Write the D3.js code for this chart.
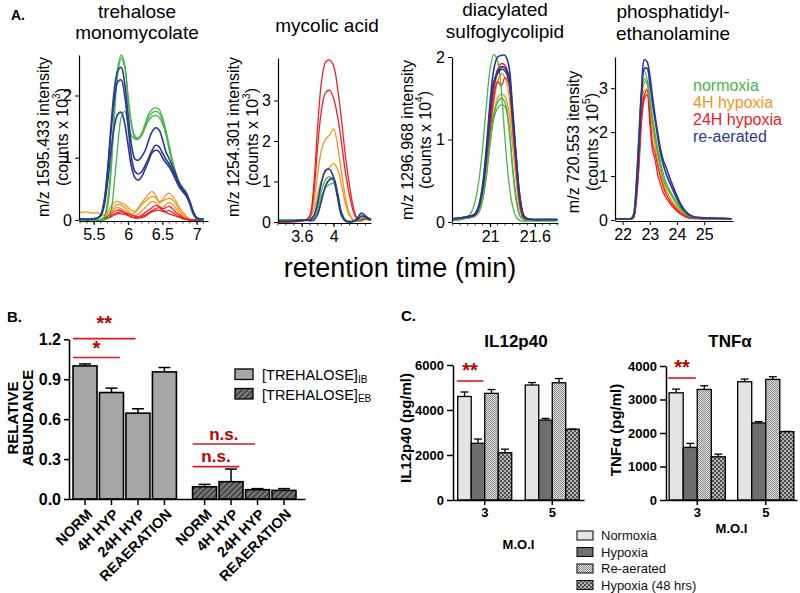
<!DOCTYPE html>
<html><head><meta charset="utf-8">
<script src="https://cdn.jsdelivr.net/npm/d3@7"></script>
<style>body{margin:0;background:#fff}svg{display:block}</style>
</head><body><svg id="chart" width="800" height="593"></svg>
<script>
// ================= DATA =================
const conditionNames = ["normoxia", "4H hypoxia", "24H hypoxia", "re-aerated"];
const conditionColors = ["#45b649", "#f7941d", "#ed2024", "#2b3990"];

// Panel A1: trehalose monomycolate (m/z 1595.433), counts x 10^3
const tmmTime = [5.3,5.4,5.5,5.55,5.6,5.65,5.7,5.75,5.8,5.85,5.9,5.95,6.0,6.05,6.1,6.15,6.2,6.25,6.3,6.35,6.4,6.45,6.5,6.55,6.6,6.65,6.7,6.75,6.8,6.85,6.9,6.95,7.0,7.1];
const tmmNormoxia = [
 [0,0,0,0,0.01,0.05,0.3,0.9,1.8,2.45,2.65,2.5,2.0,1.55,1.35,1.32,1.4,1.55,1.7,1.78,1.8,1.78,1.65,1.45,1.2,0.95,0.75,0.6,0.52,0.45,0.3,0.12,0.03,0],
 [0,0,0,0,0,0.03,0.2,0.75,1.65,2.35,2.6,2.45,1.95,1.5,1.32,1.3,1.38,1.52,1.65,1.72,1.75,1.72,1.6,1.4,1.15,0.92,0.72,0.58,0.5,0.42,0.28,0.1,0.02,0],
 [0,0,0,0,0,0,0.02,0.15,0.6,1.2,1.65,1.75,1.55,1.35,1.3,1.3,1.36,1.48,1.6,1.66,1.68,1.65,1.55,1.38,1.12,0.9,0.7,0.55,0.48,0.4,0.25,0.08,0.02,0]
];
const tmmHyp4 = [
 [0.12,0.13,0.11,0.12,0.1,0.08,0.12,0.22,0.28,0.3,0.27,0.25,0.2,0.15,0.14,0.2,0.28,0.35,0.42,0.46,0.4,0.3,0.32,0.4,0.43,0.38,0.3,0.2,0.12,0.06,0.02,0,0,0],
 [0,0,0,0,0.01,0.03,0.08,0.15,0.22,0.25,0.24,0.2,0.15,0.1,0.12,0.18,0.25,0.3,0.35,0.38,0.36,0.28,0.3,0.33,0.35,0.32,0.25,0.15,0.08,0.04,0.01,0,0,0],
 [0,0,0,0,0.01,0.02,0.06,0.12,0.18,0.2,0.18,0.15,0.12,0.08,0.07,0.1,0.15,0.2,0.26,0.3,0.28,0.22,0.2,0.25,0.28,0.25,0.18,0.1,0.05,0.02,0,0,0,0]
];
const tmmHyp24 = [
 [0,0,0,0,0,0.02,0.05,0.1,0.14,0.16,0.15,0.12,0.1,0.08,0.06,0.05,0.08,0.12,0.16,0.2,0.23,0.22,0.18,0.2,0.22,0.18,0.12,0.08,0.04,0.02,0,0,0,0],
 [0,0,0,0,0,0.01,0.03,0.07,0.1,0.12,0.13,0.11,0.08,0.05,0.04,0.05,0.06,0.08,0.12,0.15,0.18,0.2,0.16,0.14,0.15,0.12,0.08,0.05,0.03,0.01,0,0,0,0],
 [0,0,0,0,0,0.01,0.02,0.05,0.08,0.1,0.1,0.09,0.07,0.05,0.03,0.03,0.04,0.06,0.1,0.13,0.15,0.16,0.14,0.12,0.1,0.08,0.06,0.04,0.02,0.01,0,0,0,0]
];
const tmmReaerated = [
 [0.02,0.01,0.02,0.03,0.08,0.3,0.8,1.5,2.1,2.4,2.45,2.2,1.7,1.2,0.98,0.96,1.02,1.12,1.28,1.42,1.48,1.45,1.3,1.1,0.98,0.85,0.72,0.58,0.5,0.42,0.3,0.14,0.04,0.01],
 [0.02,0.01,0.02,0.03,0.07,0.28,0.75,1.4,1.95,2.22,2.25,2.0,1.5,1.0,0.78,0.74,0.78,0.88,1.0,1.12,1.2,1.18,1.08,0.98,0.9,0.8,0.68,0.55,0.48,0.4,0.28,0.12,0.03,0.01],
 [0.02,0.01,0.02,0.03,0.06,0.22,0.6,1.1,1.5,1.7,1.73,1.55,1.2,0.85,0.68,0.64,0.7,0.82,0.95,1.08,1.12,1.1,1.0,0.92,0.85,0.75,0.63,0.52,0.45,0.38,0.26,0.11,0.03,0.01]
];
const tmmXTicks = [5.5, 6, 6.5, 7];
const tmmYTicks = [0, 1, 2];

// Panel A2: mycolic acid (m/z 1254.301), counts x 10^3
const maTime = [3.3,3.4,3.5,3.6,3.65,3.7,3.75,3.8,3.85,3.9,3.95,4.0,4.05,4.1,4.15,4.2,4.25,4.3,4.35,4.4,4.47];
const maNormoxia = [
 [0.05,0.05,0.05,0.05,0.06,0.08,0.15,0.4,0.8,1.05,1.12,1.0,0.6,0.2,0.05,0.02,0.02,0.05,0.1,0.1,0.08],
 [0.05,0.05,0.05,0.05,0.05,0.06,0.1,0.3,0.65,0.85,0.93,0.95,0.7,0.25,0.05,0.02,0.02,0.04,0.08,0.1,0.07]
];
const maHyp4 = [
 [0,0,0.01,0.02,0.06,0.15,0.5,1.2,1.8,2.05,2.15,2.3,1.9,1.2,0.6,0.2,0.05,0.02,0.03,0.08,0.05],
 [0,0,0.01,0.02,0.05,0.1,0.3,0.7,1.05,1.25,1.35,1.45,1.3,0.9,0.45,0.15,0.04,0.02,0.02,0.06,0.04]
];
const maHyp24 = [
 [0,0,0.01,0.03,0.05,0.15,0.9,2.4,3.5,3.95,4.0,3.85,3.3,2.5,1.6,0.9,0.35,0.08,0.05,0.1,0.05],
 [0,0,0.01,0.03,0.05,0.12,0.7,1.9,2.8,3.2,3.25,3.05,2.6,1.95,1.2,0.65,0.25,0.06,0.05,0.08,0.04]
];
const maReaerated = [
 [0.02,0.02,0.03,0.04,0.05,0.05,0.15,0.5,1.0,1.28,1.3,1.1,0.6,0.15,0.02,0,0.02,0.1,0.22,0.15,0.05],
 [0.02,0.02,0.03,0.04,0.04,0.03,0.05,0.2,0.55,0.9,1.05,1.07,0.7,0.2,0.03,0,0.01,0.06,0.15,0.12,0.06]
];
const maXTicks = [3.6, 4];
const maYTicks = [0, 1, 2, 3];

// Panel A3: diacylated sulfoglycolipid (m/z 1296.968), counts x 10^4
const slTime = [20.5,20.6,20.7,20.75,20.8,20.85,20.9,20.95,21.0,21.05,21.1,21.15,21.2,21.25,21.3,21.35,21.4,21.45,21.5,21.6,21.7,21.8,21.9];
const slNormoxia = [
 [0.02,0.03,0.06,0.12,0.25,0.5,0.9,1.4,1.85,2.03,1.95,1.6,1.0,0.5,0.2,0.06,0.02,0.01,0.01,0.01,0.01,0.01,0.01],
 [0.02,0.03,0.05,0.06,0.08,0.15,0.3,0.6,1.0,1.3,1.45,1.5,1.45,1.2,0.7,0.3,0.08,0.03,0.02,0.02,0.02,0.02,0.02],
 [0.02,0.03,0.05,0.06,0.08,0.13,0.28,0.55,0.95,1.25,1.38,1.42,1.4,1.15,0.65,0.25,0.07,0.03,0.02,0.02,0.02,0.02,0.02]
];
const slHyp4 = [
 [0.03,0.04,0.05,0.06,0.07,0.12,0.28,0.6,1.05,1.45,1.7,1.8,1.75,1.55,1.1,0.55,0.18,0.05,0.03,0.02,0.02,0.02,0.02],
 [0.03,0.04,0.05,0.06,0.07,0.12,0.26,0.55,0.95,1.3,1.5,1.55,1.52,1.35,0.95,0.5,0.15,0.04,0.03,0.02,0.02,0.02,0.02]
];
const slHyp24 = [
 [0.03,0.04,0.05,0.06,0.08,0.15,0.35,0.75,1.25,1.65,1.85,1.92,1.9,1.75,1.3,0.7,0.25,0.06,0.03,0.02,0.02,0.02,0.02],
 [0.03,0.04,0.05,0.06,0.08,0.14,0.32,0.7,1.2,1.6,1.8,1.88,1.86,1.7,1.25,0.68,0.22,0.05,0.03,0.02,0.02,0.02,0.02],
 [0.03,0.04,0.05,0.06,0.08,0.14,0.3,0.65,1.1,1.5,1.7,1.65,1.75,1.68,1.2,0.65,0.2,0.05,0.03,0.02,0.02,0.02,0.02]
];
const slReaerated = [
 [0.04,0.05,0.06,0.07,0.1,0.2,0.45,0.9,1.45,1.85,2.0,2.02,2.02,1.9,1.4,0.8,0.3,0.08,0.04,0.03,0.03,0.03,0.03],
 [0.04,0.05,0.06,0.07,0.09,0.18,0.4,0.8,1.3,1.68,1.82,1.88,1.87,1.78,1.35,0.78,0.3,0.08,0.04,0.03,0.03,0.03,0.03],
 [0.04,0.05,0.07,0.08,0.1,0.2,0.42,0.85,1.35,1.7,1.8,1.85,1.83,1.72,1.3,0.75,0.28,0.07,0.04,0.03,0.03,0.03,0.03]
];
const slXTicks = [21, 21.6];
const slYTicks = [0, 1, 2];

// Panel A4: phosphatidylethanolamine (m/z 720.553), counts x 10^5
const peTime = [21.75,22,22.2,22.3,22.4,22.5,22.6,22.7,22.8,22.9,23,23.1,23.2,23.3,23.4,23.5,23.6,23.8,24,24.2,24.4,24.6,24.8,25,25.5,26];
const peNormoxia = [
 [0.02,0.02,0.02,0.02,0.15,0.9,2.0,3.0,3.4,3.2,2.8,2.35,1.95,1.6,1.3,1.05,0.85,0.6,0.4,0.22,0.1,0.06,0.05,0.04,0.03,0.02],
 [0.02,0.02,0.02,0.02,0.12,0.8,1.9,2.85,3.22,3.1,2.7,2.25,1.85,1.5,1.2,0.95,0.78,0.55,0.35,0.2,0.1,0.05,0.04,0.03,0.03,0.02]
];
const peHyp4 = [
 [0.03,0.03,0.03,0.03,0.08,0.6,1.6,2.7,3.12,3.15,2.7,2.2,1.8,1.45,1.15,0.9,0.7,0.45,0.3,0.17,0.08,0.05,0.04,0.03,0.03,0.02],
 [0.03,0.03,0.03,0.03,0.07,0.55,1.5,2.55,2.95,2.98,2.55,2.05,1.65,1.3,1.05,0.82,0.65,0.42,0.27,0.15,0.07,0.05,0.04,0.03,0.03,0.02]
];
const peHyp24 = [
 [0.02,0.02,0.02,0.02,0.05,0.45,1.3,2.4,2.85,2.95,2.4,1.75,1.5,1.2,0.95,0.75,0.58,0.38,0.24,0.13,0.06,0.04,0.03,0.03,0.02,0.02],
 [0.02,0.02,0.02,0.02,0.05,0.4,1.2,2.25,2.75,2.85,2.2,1.6,1.35,1.0,0.8,0.62,0.5,0.33,0.2,0.11,0.05,0.03,0.03,0.02,0.02,0.02]
];
const peReaerated = [
 [0.03,0.03,0.03,0.03,0.1,0.7,1.8,3.0,3.65,3.6,3.3,2.8,2.35,1.95,1.6,1.35,1.2,0.85,0.55,0.3,0.15,0.08,0.06,0.05,0.04,0.03],
 [0.03,0.03,0.03,0.03,0.09,0.65,1.7,2.85,3.45,3.45,3.1,2.65,2.25,1.85,1.5,1.25,1.05,0.75,0.48,0.26,0.13,0.07,0.05,0.05,0.04,0.03]
];
const peXTicks = [22, 23, 24, 25];
const peYTicks = [0, 1, 2, 3];

// Panel B: relative trehalose abundance
const bConditions = ["NORM", "4H HYP", "24H HYP", "REAERATION"];
const bGroups = ["IB", "EB"];
const ibMean = [1.00, 0.80, 0.645, 0.955];
const ibErr = [0.015, 0.033, 0.033, 0.033];
const ebMean = [0.092, 0.13, 0.07, 0.065];
const ebErr = [0.018, 0.095, 0.008, 0.013];
const bYTicks = [0, 0.3, 0.6, 0.9, 1.2];

// Panel C: cytokines (pg/ml) by M.O.I
const cMoi = ["3", "5"];
const cConditions = ["Normoxia", "Hypoxia", "Re-aerated", "Hypoxia (48 hrs)"];
const il12Mean = [[4600, 2520, 4740, 2100], [5110, 3550, 5210, 3140]];
const il12Err = [[200, 190, 170, 160], [110, 75, 190, 15]];
const tnfMean = [[3200, 1570, 3300, 1290], [3530, 2300, 3600, 2040]];
const tnfErr = [[110, 120, 110, 80], [80, 40, 80, 10]];
const il12YTicks = [0, 2000, 4000, 6000];
const tnfYTicks = [0, 1000, 2000, 3000, 4000];

// ================= DRAW =================
const FONT = "'Liberation Sans', Arial, Helvetica, sans-serif";
const svg = d3.select("#chart").attr("font-family", FONT);
svg.append("rect").attr("width", 800).attr("height", 593).attr("fill", "#fff");
const defs = svg.append("defs");

// patterns
const pHatch = defs.append("pattern").attr("id", "hatchEB").attr("patternUnits", "userSpaceOnUse")
  .attr("width", 4).attr("height", 4).attr("patternTransform", "rotate(45)");
pHatch.append("rect").attr("width", 4).attr("height", 4).attr("fill", "#4a4a4a");
pHatch.append("rect").attr("width", 1.3).attr("height", 4).attr("fill", "#8f8f8f");
const pLight = defs.append("pattern").attr("id", "checkLight").attr("patternUnits", "userSpaceOnUse").attr("width", 2).attr("height", 2);
pLight.append("rect").attr("width", 2).attr("height", 2).attr("fill", "#e2e2e2");
pLight.append("rect").attr("width", 1).attr("height", 1).attr("fill", "#8a8a8a");
pLight.append("rect").attr("x", 1).attr("y", 1).attr("width", 1).attr("height", 1).attr("fill", "#8a8a8a");
const pDark = defs.append("pattern").attr("id", "checkDark").attr("patternUnits", "userSpaceOnUse").attr("width", 4).attr("height", 4);
pDark.append("rect").attr("width", 4).attr("height", 4).attr("fill", "#b4b4b4");
pDark.append("rect").attr("width", 2).attr("height", 2).attr("fill", "#4e4e4e");
pDark.append("rect").attr("x", 2).attr("y", 2).attr("width", 2).attr("height", 2).attr("fill", "#4e4e4e");

function styleAxis(g, size, weight) {
  g.attr("font-family", FONT).attr("font-size", size);
  g.selectAll("text").attr("fill", "#000").attr("font-weight", weight || "normal");
  g.selectAll("line,path").attr("stroke", "#000");
}

// ----- Panel A -----
svg.append("text").attr("x", 11).attr("y", 20).attr("font-weight", "bold").attr("font-size", 14).text("A.");

const chromPanels = [
  { time: tmmTime, series: [tmmNormoxia, tmmHyp4, tmmHyp24, tmmReaerated], xDomain: [5.284, 7.165], xRange: [79, 208],
    yDomain: [0, 2.65], yRange: [220, 55], xTicks: tmmXTicks, yTicks: tmmYTicks, minorStep: 0.1,
    title: ["trehalose", "monomycolate"], titleX: 137, titleY: [18, 39],
    yLabel: "m/z 1595.433 intensity", expo: "3", labelX: [43, 62], labelY: 137 },
  { time: maTime, series: [maNormoxia, maHyp4, maHyp24, maReaerated], xDomain: [3.3, 4.47], xRange: [278, 371],
    yDomain: [0, 4.05], yRange: [222, 58], xTicks: maXTicks, yTicks: maYTicks, minorStep: 0.1,
    title: ["mycolic acid"], titleX: 327, titleY: [32],
    yLabel: "m/z 1254.301 intensity", expo: "3", labelX: [233, 252], labelY: 137 },
  { time: slTime, series: [slNormoxia, slHyp4, slHyp24, slReaerated], xDomain: [20.49, 21.91], xRange: [452, 558],
    yDomain: [0, 2.0], yRange: [222, 57], xTicks: slXTicks, yTicks: slYTicks, minorStep: 0.1,
    title: ["diacylated", "sulfoglycolipid"], titleX: 505, titleY: [16, 38],
    yLabel: "m/z 1296.968 intensity", expo: "4", labelX: [407, 425], labelY: 140 },
  { time: peTime, series: [peNormoxia, peHyp4, peHyp24, peReaerated], xDomain: [21.72, 26.06], xRange: [615, 733],
    yDomain: [0, 3.71], yRange: [220, 57], xTicks: peXTicks, yTicks: peYTicks, minorStep: null,
    title: ["phosphatidyl-", "ethanolamine"], titleX: 673, titleY: [18, 40],
    yLabel: "m/z 720.553 itensity", expo: "5", labelX: [573, 592], labelY: 142 }
];

const drawOrder = [1, 2, 0, 3];
chromPanels.forEach(cfg => {
  const g = svg.append("g");
  const x = d3.scaleLinear().domain(cfg.xDomain).range(cfg.xRange);
  const y = d3.scaleLinear().domain(cfg.yDomain).range(cfg.yRange);
  const line = d3.line().x(d => x(d[0])).y(d => y(d[1])).curve(d3.curveCatmullRom.alpha(0.5));
  drawOrder.forEach(ci => {
    cfg.series[ci].forEach(tr => {
      const pts = cfg.time.map((t, i) => [t, tr[i]]).filter(p => p[1] !== undefined);
      g.append("path").datum(pts).attr("d", line).attr("fill", "none")
        .attr("stroke", conditionColors[ci]).attr("stroke-width", ci === 3 ? 1.6 : 1.3)
        .attr("stroke-linejoin", "round");
    });
  });
  const yAx = g.append("g").attr("transform", `translate(${cfg.xRange[0]},0)`)
    .call(d3.axisLeft(y).tickValues(cfg.yTicks).tickSize(4).tickSizeOuter(0).tickPadding(3).tickFormat(d3.format("d")));
  styleAxis(yAx, 16);
  yAx.select(".domain").attr("stroke-width", 1.2);
  const xAx = g.append("g").attr("transform", `translate(0,${cfg.yRange[0] + 1})`)
    .call(d3.axisBottom(x).tickValues(cfg.xTicks).tickSize(4).tickSizeOuter(0).tickPadding(4).tickFormat(d => String(d)));
  styleAxis(xAx, 16);
  xAx.select(".domain").attr("stroke-width", 1.2);
  if (cfg.minorStep) {
    const minors = d3.range(Math.ceil(cfg.xDomain[0] / cfg.minorStep) * cfg.minorStep, cfg.xDomain[1], cfg.minorStep);
    xAx.selectAll(".minor").data(minors).join("line").attr("class", "minor")
      .attr("x1", d => x(d)).attr("x2", d => x(d)).attr("y1", 0).attr("y2", 2.5).attr("stroke", "#000").attr("stroke-width", 0.8);
  }
  // title
  cfg.title.forEach((t, i) => g.append("text").attr("x", cfg.titleX).attr("y", cfg.titleY[i])
    .attr("text-anchor", "middle").attr("font-size", 19).text(t));
  // y label (two lines)
  g.append("text").attr("transform", `translate(${cfg.labelX[0]},${cfg.labelY}) rotate(-90)`)
    .attr("text-anchor", "middle").attr("dy", "0.36em").attr("font-size", 16).text(cfg.yLabel);
  const l2 = g.append("text").attr("transform", `translate(${cfg.labelX[1]},${cfg.labelY}) rotate(-90)`)
    .attr("text-anchor", "middle").attr("dy", "0.36em").attr("font-size", 16);
  l2.append("tspan").text("(counts x 10");
  l2.append("tspan").attr("font-size", 10).attr("dy", "-0.75em").text(cfg.expo);
  l2.append("tspan").attr("dy", "0.45em").text(")");
});

svg.append("text").attr("x", 400).attr("y", 277).attr("text-anchor", "middle").attr("font-size", 27).text("retention time (min)");

// legend panel A
conditionNames.forEach((n, i) => svg.append("text").attr("x", 693).attr("y", 91 + i * 17)
  .attr("font-size", 16).attr("fill", conditionColors[i]).text(n));

// ----- Panel B -----
const gB = svg.append("g");
gB.append("text").attr("x", 7).attr("y", 322).attr("font-weight", "bold").attr("font-size", 15).text("B.");
const yB = d3.scaleLinear().domain([0, 1.2]).range([499, 339.3]);
const outerB = d3.scaleBand().domain(bGroups).range([69, 300]).paddingInner(0.113).paddingOuter(0.0226);
const innerB = d3.scaleBand().domain(bConditions).range([0, outerB.bandwidth()]).paddingInner(0.094).paddingOuter(0.05);
const bMeans = { IB: ibMean, EB: ebMean };
const bErrs = { IB: ibErr, EB: ebErr };
const bFill = { IB: "#a6a6a6", EB: "url(#hatchEB)" };
bGroups.forEach(gr => {
  bConditions.forEach((c, i) => {
    const x0 = outerB(gr) + innerB(c), w = innerB.bandwidth(), cx = x0 + w / 2;
    const m = bMeans[gr][i], e = bErrs[gr][i];
    gB.append("line").attr("x1", cx).attr("x2", cx).attr("y1", yB(m)).attr("y2", yB(m + e)).attr("stroke", "#000").attr("stroke-width", 1.5);
    gB.append("line").attr("x1", cx - 6).attr("x2", cx + 6).attr("y1", yB(m + e)).attr("y2", yB(m + e)).attr("stroke", "#000").attr("stroke-width", 1.5);
    gB.append("rect").attr("x", x0).attr("y", yB(m)).attr("width", w).attr("height", yB(0) - yB(m))
      .attr("fill", bFill[gr]).attr("stroke", "#000").attr("stroke-width", 1.6);
    gB.append("line").attr("x1", cx).attr("x2", cx).attr("y1", 499).attr("y2", 505).attr("stroke", "#000").attr("stroke-width", 1.5);
    gB.append("text").attr("transform", `translate(${cx + 1},${508}) rotate(-45)`).attr("text-anchor", "end")
      .attr("dy", "0.7em").attr("font-size", 14.5).attr("font-weight", "bold").text(c);
  });
});
const yAxB = gB.append("g").attr("transform", "translate(69,0)")
  .call(d3.axisLeft(yB).tickValues(bYTicks).tickSize(5).tickSizeOuter(0).tickPadding(3).tickFormat(d3.format(".1f")));
styleAxis(yAxB, 16, "bold");
yAxB.selectAll("line,path").attr("stroke-width", 1.6);
const xLineB = d3.scaleLinear().range([69, 305]);
const xAxB = gB.append("g").attr("transform", "translate(0,499)").call(d3.axisBottom(xLineB).tickValues([]).tickSizeOuter(0));
xAxB.select(".domain").attr("stroke", "#000").attr("stroke-width", 1.6);
gB.append("text").attr("transform", "translate(13,418) rotate(-90)").attr("text-anchor", "middle").attr("dy", "0.36em")
  .attr("font-size", 15).attr("font-weight", "bold").text("RELATIVE");
gB.append("text").attr("transform", "translate(28,418) rotate(-90)").attr("text-anchor", "middle").attr("dy", "0.36em")
  .attr("font-size", 15).attr("font-weight", "bold").text("ABUNDANCE");
// significance
const sigRed = "#d7191c";
const sigB = [
  { g: "IB", from: "NORM", to: "24H HYP", lineY: 1.205, label: "**", labelY: 1.27, fs: 20 },
  { g: "IB", from: "NORM", to: "4H HYP", lineY: 1.063, label: "*", labelY: 1.08, fs: 20 },
  { g: "EB", from: "NORM", to: "24H HYP", lineY: 0.413, label: "n.s.", labelY: 0.445, fs: 17 },
  { g: "EB", from: "NORM", to: "4H HYP", lineY: 0.243, label: "n.s.", labelY: 0.275, fs: 17 }
];
sigB.forEach(s => {
  const xa = outerB(s.g) + innerB(s.from), xb = outerB(s.g) + innerB(s.to) + innerB.bandwidth() * (s.to === "4H HYP" ? 0.85 : 0.4);
  gB.append("line").attr("x1", xa).attr("x2", xb).attr("y1", yB(s.lineY)).attr("y2", yB(s.lineY)).attr("stroke", sigRed).attr("stroke-width", 1.6);
  gB.append("text").attr("x", (xa + xb) / 2).attr("y", yB(s.labelY)).attr("text-anchor", "middle")
    .attr("font-size", s.fs).attr("font-weight", "bold").attr("fill", "#c00000").text(s.label);
});
// legend B
bGroups.forEach((gr, i) => {
  const y0 = 369 + i * 19.5;
  gB.append("rect").attr("x", 235).attr("y", y0).attr("width", 18).attr("height", 10.5)
    .attr("fill", bFill[gr]).attr("stroke", "#000").attr("stroke-width", 1.3);
  const t = gB.append("text").attr("x", 262).attr("y", y0 + 11).attr("font-size", 14.5);
  t.append("tspan").text("[TREHALOSE]");
  t.append("tspan").attr("font-size", 10).attr("dy", "0.25em").text(gr);
});

// ----- Panel C -----
svg.append("text").attr("x", 401).attr("y", 321).attr("font-weight", "bold").attr("font-size", 15).text("C.");
const cFills = ["#e4e4e4", "#6e6e6e", "url(#checkLight)", "url(#checkDark)"];
const cPanels = [
  { name: "IL12p40", mean: il12Mean, err: il12Err, ticks: il12YTicks, yMax: 6000, yTop: 365, xRange: [453, 584],
    pi: 0.2, po: 0.07, titleX: 516, ylab: "IL12p40  (pg/ml)", ylabX: 406, ylabY: 428, moiY: 549,
    sigLine: 381, sigText: 377 },
  { name: "TNFα", mean: tnfMean, err: tnfErr, ticks: tnfYTicks, yMax: 4000, yTop: 366, xRange: [666, 797],
    pi: 0.18, po: 0.046, titleX: 730, ylab: "TNFα (pg/ml)", ylabX: 616, ylabY: 430, moiY: 533,
    sigLine: 378, sigText: 374 }
];
cPanels.forEach(p => {
  const g = svg.append("g");
  const y = d3.scaleLinear().domain([0, p.yMax]).range([500, p.yTop]);
  const outer = d3.scaleBand().domain(cMoi).range(p.xRange).paddingInner(p.pi).paddingOuter(p.po);
  const inner = d3.scaleBand().domain(cConditions).range([0, outer.bandwidth()]).padding(0);
  cMoi.forEach((m, gi) => {
    cConditions.forEach((c, ci) => {
      const x0 = outer(m) + inner(c), w = inner.bandwidth(), cx = x0 + w / 2;
      const v = p.mean[gi][ci], e = p.err[gi][ci];
      g.append("line").attr("x1", cx).attr("x2", cx).attr("y1", y(v)).attr("y2", y(v + e)).attr("stroke", "#000").attr("stroke-width", 1.3);
      g.append("line").attr("x1", cx - 4).attr("x2", cx + 4).attr("y1", y(v + e)).attr("y2", y(v + e)).attr("stroke", "#000").attr("stroke-width", 1.3);
      g.append("rect").attr("x", x0).attr("y", y(v)).attr("width", w).attr("height", 500 - y(v))
        .attr("fill", cFills[ci]).attr("stroke", "#000").attr("stroke-width", 1.3);
    });
  });
  const ya = g.append("g").attr("transform", `translate(${p.xRange[0]},0)`)
    .call(d3.axisLeft(y).tickValues(p.ticks).tickSize(6).tickSizeOuter(0).tickPadding(3).tickFormat(d3.format("d")));
  styleAxis(ya, 13, "bold");
  ya.selectAll("line,path").attr("stroke-width", 1.5);
  const xa = g.append("g").attr("transform", "translate(0,500)")
    .call(d3.axisBottom(outer).tickSize(5).tickSizeOuter(0).tickPadding(3));
  styleAxis(xa, 13, "bold");
  xa.selectAll("line,path").attr("stroke-width", 1.5);
  g.append("text").attr("x", p.titleX).attr("y", 347).attr("text-anchor", "middle").attr("font-size", 17).attr("font-weight", "bold").text(p.name);
  g.append("text").attr("transform", `translate(${p.ylabX},${p.ylabY}) rotate(-90)`).attr("text-anchor", "middle")
    .attr("dy", "0.36em").attr("font-size", 15).attr("font-weight", "bold").text(p.ylab);
  g.append("text").attr("x", (p.xRange[0] + p.xRange[1]) / 2).attr("y", p.moiY).attr("text-anchor", "middle")
    .attr("font-size", 13).attr("font-weight", "bold").text("M.O.I");
  // significance between Normoxia and Hypoxia at MOI 3
  const sx0 = outer("3") - 1, sx1 = outer("3") + inner("Hypoxia") + inner.bandwidth() * 0.9;
  g.append("line").attr("x1", sx0).attr("x2", sx1).attr("y1", p.sigLine).attr("y2", p.sigLine).attr("stroke", sigRed).attr("stroke-width", 1.6);
  g.append("text").attr("x", (sx0 + sx1) / 2).attr("y", p.sigText).attr("text-anchor", "middle")
    .attr("font-size", 20).attr("font-weight", "bold").attr("fill", "#c00000").text("**");
});
// legend C
cConditions.forEach((c, i) => {
  const yc = 535.5 + i * 16.5;
  svg.append("rect").attr("x", 577).attr("y", yc - 4.5).attr("width", 16).attr("height", 9)
    .attr("fill", cFills[i]).attr("stroke", "#000").attr("stroke-width", 1);
  svg.append("text").attr("x", 601).attr("y", yc + 4.5).attr("font-size", 13).attr("fill", "#111").text(c);
});
</script></body></html>
